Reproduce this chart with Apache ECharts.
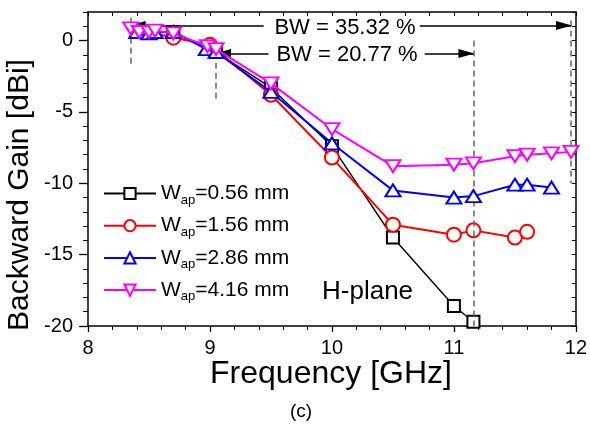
<!DOCTYPE html>
<html><head><meta charset="utf-8">
<script src="https://cdn.jsdelivr.net/npm/echarts@6/dist/echarts.min.js"></script>
<style>html,body{margin:0;padding:0;background:#fff}#c{width:590px;height:427px}</style>
</head><body><div id="c"></div>
<script>
// ---- data ----
const freqA = [8.4, 8.5, 8.7, 9.05, 9.5, 10.0, 10.5, 11.0, 11.16];
const gainA = [0.7, 0.6, 0.6, -0.8, -3.3, -7.4, -13.8, -18.6, -19.7];
const freqB = [8.4, 8.5, 8.7, 9.0, 9.5, 10.0, 10.5, 11.0, 11.16, 11.5, 11.6];
const gainB = [0.7, 0.6, 0.2, -0.3, -3.8, -8.2, -12.9, -13.6, -13.3, -13.8, -13.4];
const freqC = [8.4, 8.5, 8.55, 8.7, 8.97, 9.05, 9.5, 10.0, 10.5, 11.0, 11.16, 11.5, 11.6, 11.8];
const gainC = [0.6, 0.5, 0.6, 0.6, -0.6, -0.8, -3.6, -7.2, -10.5, -11.0, -10.9, -10.1, -10.1, -10.3];
const freqD = [8.35, 8.42, 8.5, 8.55, 8.7, 8.98, 9.05, 9.5, 10.0, 10.5, 11.0, 11.16, 11.5, 11.6, 11.8, 11.96];
const gainD = [0.85, 0.6, 0.6, 0.7, 0.5, -0.4, -0.6, -3.0, -6.2, -8.8, -8.7, -8.6, -8.1, -8.0, -7.9, -7.8];
const seriesWidths = ['0.56', '1.56', '2.86', '4.16'];
const xTickValues = [8, 9, 10, 11, 12];
const yTickValues = [-20, -15, -10, -5, 0];
// dashed marker lines
const vFreq = [8.35, 9.05, 11.16, 11.96];
const vTop = [1.6, -0.85, 0.0, 1.4];
const vBottom = [-1.75, -4.2, -20, -10];
// bandwidth arrows
const bwText = ['BW = 35.32 %', 'BW = 20.77 %'];
const bwGain = [1.05, -0.9];
const bwLowF = [8.35, 9.05];
const bwHighF = [11.96, 11.16];
const bwInnerLeft = [9.44, 9.48];
const bwInnerRight = [10.72, 10.76];

const FONT = '"Liberation Sans", Arial, sans-serif';
const zip = (f, g) => f.map((v, i) => [v, g[i]]);

const chart = echarts.init(document.getElementById('c'), null, {renderer: 'canvas'});

const markLineData = [];
vFreq.forEach((f, i) => {
  markLineData.push([
    {coord: [f, vTop[i]], symbol: 'none', lineStyle: {type: [6, 4], color: '#666', width: 1.5}},
    {coord: [f, vBottom[i]], symbol: 'none'}
  ]);
});
bwText.forEach((t, i) => {
  markLineData.push([
    {coord: [bwInnerLeft[i], bwGain[i]], symbol: 'none', lineStyle: {type: 'solid', color: '#000', width: 1.5}},
    {coord: [bwLowF[i], bwGain[i]], symbol: 'triangle', symbolSize: [9, 16], symbolOffset: [0, 7]}
  ]);
  markLineData.push([
    {coord: [bwInnerRight[i], bwGain[i]], symbol: 'none', lineStyle: {type: 'solid', color: '#000', width: 1.5}},
    {coord: [bwHighF[i], bwGain[i]], symbol: 'triangle', symbolSize: [9, 16], symbolOffset: [0, 7]}
  ]);
});

const names = seriesWidths.map(w => 'W' + w);
const colors = ['#000000', '#ff0000', '#0000ff', '#ff00ff'];
const symbols = ['emptyRect', 'emptyCircle', 'emptyTriangle', 'emptyTriangle'];
const symSizes = [12, 14, [15, 12], [15, 12]];
const rotates = [0, 0, 0, 180];
const datas = [zip(freqA, gainA), zip(freqB, gainB), zip(freqC, gainC), zip(freqD, gainD)];

const series = datas.map((d, i) => ({
  name: names[i],
  type: 'line',
  data: d,
  xAxisIndex: 0, yAxisIndex: 0,
  symbol: symbols[i],
  symbolSize: symSizes[i],
  symbolRotate: rotates[i],
  showAllSymbol: true,
  lineStyle: {color: colors[i], width: i === 0 ? 1.4 : 2},
  itemStyle: {color: colors[i], borderWidth: 1.2},
  emphasis: {disabled: true},
  animation: false,
  z: 3 + i
}));
series.push({
  type: 'line', data: [], xAxisIndex: 0, yAxisIndex: 0, silent: true, animation: false, z: 10,
  markLine: {silent: true, animation: false, symbol: ['none', 'none'], label: {show: false},
    lineStyle: {color: '#000', width: 1.5, type: 'solid'}, itemStyle: {color: '#000'},
    emphasis: {disabled: true}, data: markLineData}
});

const axisLine = {show: true, onZero: false, lineStyle: {color: '#000', width: 1.5}};
const grid = {left: 88, right: 12, top: 12, bottom: 101, containLabel: false};

const option = {
  backgroundColor: '#fff',
  animation: false,
  textStyle: {fontFamily: FONT},
  grid: grid,
  legend: {
    orient: 'vertical', left: 98, top: 178,
    itemWidth: 52, itemHeight: 14, itemGap: 8.7,
    data: names,
    formatter: n => '{w|W}{s|ap}{w|=' + n.slice(1) + ' mm}',
    textStyle: {fontFamily: FONT, color: '#000',
      rich: {
        w: {fontSize: 21, fontFamily: FONT, lineHeight: 26, color: '#000'},
        s: {fontSize: 13, fontFamily: FONT, lineHeight: 9, verticalAlign: 'bottom', color: '#000'}
      }},
    selectedMode: false
  },
  xAxis: [
    {type: 'value', min: 8, max: 12, interval: 1, position: 'bottom',
      axisLine: axisLine, splitLine: {show: false},
      axisTick: {show: true, inside: false, length: 6, lineStyle: {color: '#000', width: 1.3}},
      minorTick: {show: true, splitNumber: 5, length: 4, lineStyle: {color: '#000', width: 1}},
      axisLabel: {fontSize: 20, color: '#000', margin: 12, fontFamily: FONT,
        customValues: xTickValues, formatter: v => String(v)}},
    {type: 'value', min: 8, max: 12, interval: 1, position: 'top',
      axisLine: axisLine, splitLine: {show: false},
      axisTick: {show: true, inside: true, length: 4, lineStyle: {color: '#000', width: 1}},
      minorTick: {show: true, splitNumber: 5, length: 4, lineStyle: {color: '#000', width: 1}},
      axisLabel: {show: false}}
  ],
  yAxis: [
    {type: 'value', min: -20, max: 2, interval: 1, position: 'left',
      axisLine: axisLine, splitLine: {show: false},
      axisTick: {show: true, inside: false, length: 5, lineStyle: {color: '#000', width: 1}},
      axisLabel: {fontSize: 20, color: '#000', margin: 15, fontFamily: FONT,
        customValues: yTickValues, formatter: v => String(v)}},
    {type: 'value', min: -20, max: 2, interval: 1, position: 'left',
      axisLine: {show: false, onZero: false}, splitLine: {show: false},
      axisTick: {show: true, inside: false, length: 9, customValues: yTickValues,
        lineStyle: {color: '#000', width: 1.3}},
      axisLabel: {show: false}},
    {type: 'value', min: -20, max: 2, interval: 1, position: 'right',
      axisLine: axisLine, splitLine: {show: false},
      axisTick: {show: true, inside: true, length: 4, lineStyle: {color: '#000', width: 1}},
      axisLabel: {show: false}}
  ],
  graphic: [
    {type: 'text', x: 20, y: 195, rotation: Math.PI / 2,
      style: {text: 'Backward Gain [dBi]', fontSize: 30, fontFamily: FONT, fill: '#000', align: 'center', verticalAlign: 'middle'}},
    {type: 'text', x: 331, y: 374,
      style: {text: 'Frequency [GHz]', fontSize: 32, fontFamily: FONT, fill: '#000', align: 'center', verticalAlign: 'middle'}},
    {type: 'text', left: 322, top: 279, style: {text: 'H-plane', fontSize: 26, fontFamily: FONT, fill: '#000'}},
    {type: 'text', x: 345, y: 28, style: {text: bwText[0], fontSize: 22, fontFamily: FONT, fill: '#000', align: 'center', verticalAlign: 'middle'}},
    {type: 'text', x: 347, y: 55, style: {text: bwText[1], fontSize: 22, fontFamily: FONT, fill: '#000', align: 'center', verticalAlign: 'middle'}},
    {type: 'text', x: 301, y: 412, style: {text: '(c)', fontSize: 19, fontFamily: '"Liberation Sans Narrow", "Liberation Sans", sans-serif', fill: '#000', align: 'center', verticalAlign: 'middle'}}
  ],
  series: series
};
chart.setOption(option);
</script>
</body></html>
